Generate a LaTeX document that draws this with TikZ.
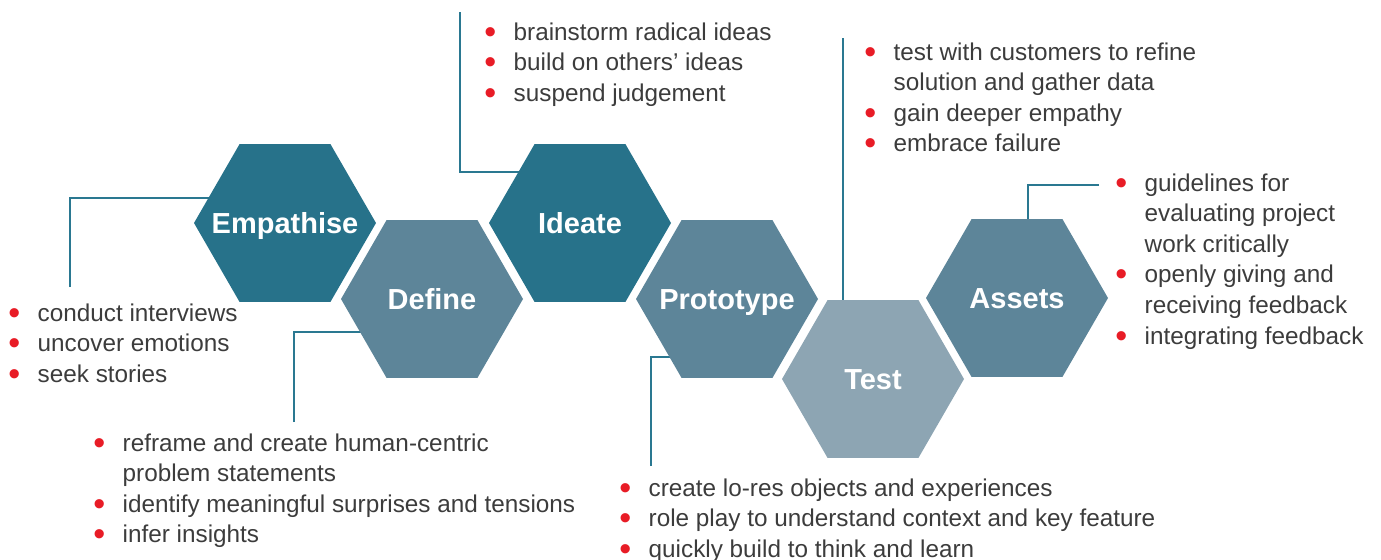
\documentclass[tikz,border=0pt]{standalone}
\usepackage{fontspec}
\usepackage{graphicx}
\setmainfont{Liberation Sans}
\usetikzlibrary{shapes.geometric,backgrounds}

\definecolor{hexdark}{RGB}{39,114,138}
\definecolor{hexmid}{RGB}{93,133,153}
\definecolor{hexlight}{RGB}{141,165,179}
\definecolor{linecol}{RGB}{42,120,145}
\definecolor{dotred}{RGB}{232,28,38}
\definecolor{txtgray}{RGB}{60,60,60}

\newcommand{\bul}{\makebox[14.65pt][l]{\raisebox{-1.5pt}{\scalebox{1.4}{\textcolor{dotred}{\textbullet}}}}}
\newcommand{\gap}{\hspace*{14.65pt}}

\tikzset{
  hexa/.style={regular polygon, regular polygon sides=6, minimum size=91pt,
    inner sep=0pt, inner xsep=-25pt, text=white, font=\bfseries\fontsize{14.5}{17}\selectfont,
    text height=10.4pt, text depth=0pt},
  dark/.style={hexa, fill=hexdark},
  mid/.style={hexa, fill=hexmid},
  light/.style={hexa, fill=hexlight},
  points/.style={anchor=north west, inner sep=0pt, align=left, text=txtgray,
    font=\fontsize{12.15}{15.3}\selectfont},
  conn/.style={draw=linecol, line width=0.65pt}
}

\begin{document}
\begin{tikzpicture}[x=0.5pt,y=-0.5pt]
\useasboundingbox (0,0) rectangle (1381,559);

% hexagons
\node[dark] (emp) at (285,223) {Empathise};
\node[mid] (def) at (432,299) {Define};
\node[dark] (idea) at (580,223) {Ideate};
\node[mid] (proto) at (727,299) {Prototype};
\node[light] (test) at (873,379) {Test};
\node[mid] (assets) at (1017,298) {Assets};

% bullet lists
\node[points] (emplist) at (8,303) {\bul conduct interviews\\ \bul uncover emotions\\ \bul seek stories};
\node[points] (deflist) at (93,433) {\bul reframe and create human-centric\\ \gap problem statements\\
  \bul identify meaningful surprises and tensions\\ \bul infer insights};
\node[points] (idealist) at (484,22) {\bul brainstorm radical ideas\\ \bul build on others’ ideas\\ \bul suspend judgement};
\node[points] (protolist) at (619,478) {\bul create lo-res objects and experiences\\
  \bul role play to understand context and key feature\\ \bul quickly build to think and learn};
\node[points] (testlist) at (864,42) {\bul test with customers to refine\\ \gap solution and gather data\\
  \bul gain deeper empathy\\ \bul embrace failure};
\node[points] (assetslist) at (1115,173) {\bul guidelines for\\ \gap evaluating project\\ \gap work critically\\
  \bul openly giving and\\ \gap receiving feedback\\ \bul integrating feedback};

% free ends of the leader lines
\coordinate (empend) at (70,287);
\coordinate (ideaend) at (460,12);
\coordinate (defend) at (294,422);
\coordinate (protoend) at (651,466);
\coordinate (testend) at (843,38);
\coordinate (assetsend) at (1099,185);

\begin{scope}[on background layer]
  \draw[conn] (empend) |- ([yshift=12.5pt]emp.center);
  \draw[conn] (ideaend) |- ([yshift=25.5pt]idea.center);
  \draw[conn] (defend) |- ([yshift=-16.5pt]def.center);
  \draw[conn] (protoend) |- ([yshift=-29pt]proto.center);
  \draw[conn] (testend) -- (testend |- test.north);
  \draw[conn] (assetsend) -| ([xshift=5.5pt]assets.north);
\end{scope}
\end{tikzpicture}
\end{document}
